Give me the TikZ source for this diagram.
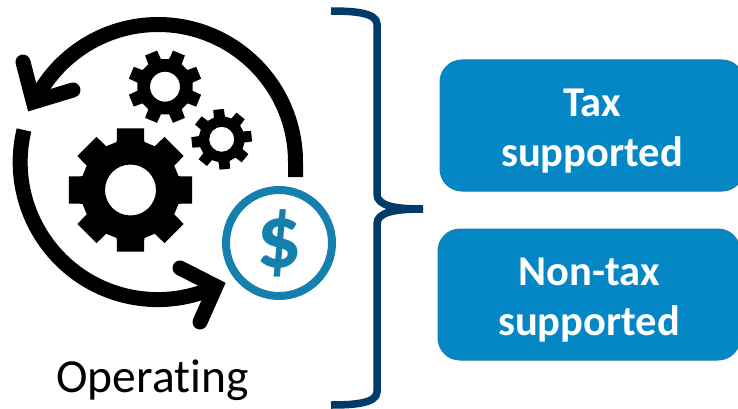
\documentclass[tikz,border=0pt]{standalone}
\usepackage{fontspec}
\setmainfont[Ligatures=CommonOff]{Carlito}
\definecolor{bracecol}{HTML}{003A66}
\definecolor{boxfill}{HTML}{0587C6}
\definecolor{boxline}{HTML}{1A7FAE}
\definecolor{coincol}{HTML}{1580AE}
\tikzset{
  cycleline/.style={line width=15pt,black},
  barb/.style={line width=15pt,black,line cap=round,line join=miter,miter limit=10},
  bracket/.style={line width=7.5pt,bracecol},
  bluebox/.style={draw=boxline,line width=1pt,fill=boxfill,rounded corners=22pt,
    text=white,font=\fontsize{42.5}{50}\selectfont\bfseries,align=center,inner sep=0pt},
  coinring/.style={circle,draw=coincol,line width=8pt,fill=white,minimum size=106pt,inner sep=0pt,
    text=coincol,font=\fontsize{90}{90}\selectfont\bfseries},
  labeltext/.style={font=\fontsize{47.5}{56}\selectfont,inner sep=0pt}
}
% #1 cx, #2 cy, #3 outer r, #4 root r, #5 hole r, #6 rotation, #7 half tooth angle (outer), #8 half tooth angle (root)
\newcommand{\gearshape}[8]{%
  \fill[black,even odd rule]
    ({#1+#4*cos(#6-#8)},{#2+#4*sin(#6-#8)})
    \foreach \gi [evaluate=\gi as \gang using #6+\gi*45] in {0,...,7}{
      -- ({#1+#4*cos(\gang-#8)},{#2+#4*sin(\gang-#8)})
      -- ({#1+#3*cos(\gang-#7)},{#2+#3*sin(\gang-#7)})
      -- ({#1+#3*cos(\gang+#7)},{#2+#3*sin(\gang+#7)})
      -- ({#1+#4*cos(\gang+#8)},{#2+#4*sin(\gang+#8)})
    } -- cycle
    ({#1+#5},#2) arc[start angle=0,end angle=360,radius=#5];
}
\newcommand{\topgap}{\rule{0pt}{38pt}}
\begin{document}
\begin{tikzpicture}[x=1pt,y=-1pt]
\useasboundingbox (0,0) rectangle (738,409);
% cycle arrows
\draw[cycleline] (295.5,177) -- (295.5,162) arc[start angle=0,end angle=-154.3,radius=137.5];
\draw[barb] (23,62) -- (33.4,102) -- (73,90);
\draw[cycleline] (24,130) arc[start angle=193.5,end angle=65,radius=137.5];
\draw[barb] (180,268) -- (215.9,286.3) -- (200,322);
% gears
\gearshape{130.5}{190}{63}{50}{25.5}{0}{12.4}{16}
\gearshape{165}{86.7}{37}{28}{15}{22.5}{10}{14}
\gearshape{221.7}{139.3}{30.5}{23}{12.5}{-6}{10}{14}
% coin
\node[coinring] (coin) at (279,243) {\$};
% label
\node[labeltext,anchor=base] (oplabel) at (152.5,392) {Operating};
% bracket
\draw[bracket] (331,11) .. controls (350,11) and (377,12) .. (377,24) -- (377,194)
  .. controls (377,206) and (395,209) .. (423,209);
\draw[bracket] (331,405) .. controls (350,405) and (377,404) .. (377,392) -- (377,224)
  .. controls (377,212) and (395,209) .. (423,209);
% boxes
\node[bluebox,minimum width=304pt,minimum height=131pt] (taxbox) at (592,125.5) {\topgap Tax\\supported};
\node[bluebox,minimum width=302pt,minimum height=131pt] (nontaxbox) at (589,294.5) {\topgap Non-tax\\supported};
\end{tikzpicture}
\end{document}
